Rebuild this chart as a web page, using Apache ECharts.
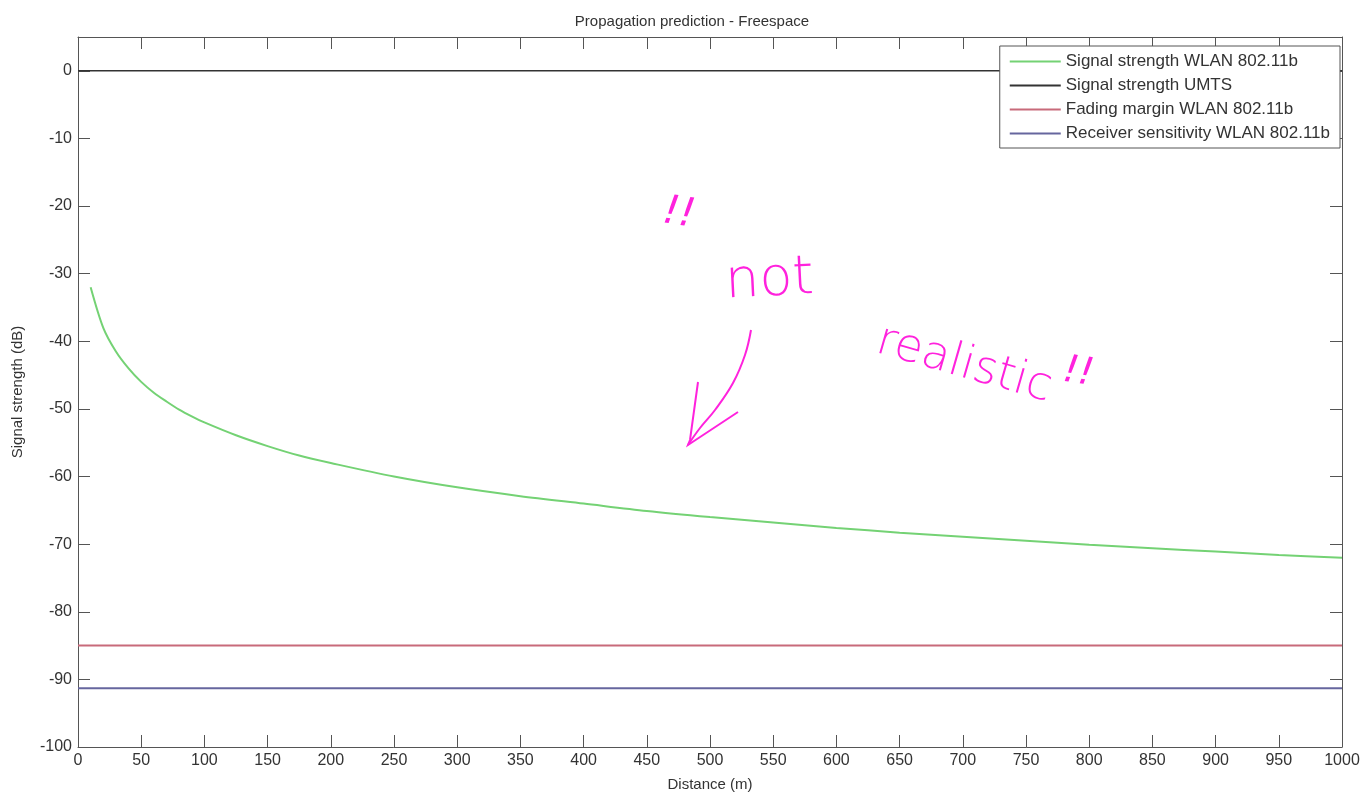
<!DOCTYPE html>
<html>
<head>
<meta charset="utf-8">
<script src="https://cdn.jsdelivr.net/npm/echarts@6/dist/echarts.min.js"></script>
<style>
html,body{margin:0;padding:0;background:#fff;}
#main{width:1364px;height:797px;}
</style>
</head>
<body>
<div id="main"></div>
<script>
// ---- data ----
const titleText = 'Propagation prediction - Freespace';
const seriesNames = ['Signal strength WLAN 802.11b', 'Signal strength UMTS', 'Fading margin WLAN 802.11b', 'Receiver sensitivity WLAN 802.11b'];
const distance = [10, 20, 30, 40, 50, 60, 70, 80, 90, 100, 125, 150, 175, 200, 250, 300, 350, 400, 450, 500, 550, 600, 650, 700, 750, 800, 850, 900, 950, 1000];
const wlanSignal = [-32, -38, -41.5, -44, -46, -47.6, -48.9, -50.1, -51.1, -52, -53.9, -55.5, -56.9, -58, -60, -61.6, -62.9, -64, -65.1, -66, -66.8, -67.6, -68.3, -68.9, -69.5, -70.1, -70.6, -71.1, -71.6, -72];
const lineRange = [0, 1000];
const umtsSignal = 0;
const fadingMargin = -85;
const rxSensitivity = -91.3;
const xTickStep = 50;
const yTickStep = 10;

const colors = ['#74d274', '#333333', '#c86a7a', '#66669e'];
const font = '"Liberation Sans", Arial, sans-serif';

const flat = v => lineRange.map(x => [x, v]);

const chart = echarts.init(document.getElementById('main'), null, {renderer: 'canvas'});

const axisLineStyle = {color: '#555', width: 1};
const baseX = {
  type: 'value', min: 0, max: 1000, interval: xTickStep,
  axisLine: {show: true, onZero: false, lineStyle: axisLineStyle},
  axisTick: {show: true, inside: true, length: 12, lineStyle: axisLineStyle},
  splitLine: {show: false}
};
const baseY = {
  type: 'value', min: -100, max: 5, interval: yTickStep,
  axisLine: {show: true, onZero: false, lineStyle: axisLineStyle},
  axisTick: {show: true, inside: true, length: 12, lineStyle: axisLineStyle},
  splitLine: {show: false}
};

const magenta = '#ff22dd';
const handFont = '"DejaVu Sans", sans-serif';

chart.setOption({
  animation: false,
  backgroundColor: '#ffffff',
  title: {
    text: titleText, left: 687, top: 9, textAlign: 'center',
    textStyle: {fontFamily: font, fontSize: 15, fontWeight: 'normal', color: '#333'}
  },
  grid: {left: 78, top: 37, right: 22, bottom: 48, containLabel: false},
  legend: {
    orient: 'vertical', right: 24, top: 46,
    data: seriesNames,
    icon: 'rect', itemWidth: 51, itemHeight: 2, itemGap: 7,
    borderColor: '#555', borderWidth: 1, backgroundColor: '#fff',
    padding: [7, 10, 6, 10],
    textStyle: {fontFamily: font, fontSize: 17, color: '#333', padding: [0, 0, 0, 0]}
  },
  xAxis: [
    Object.assign({}, baseX, {
      position: 'bottom',
      name: 'Distance (m)', nameLocation: 'middle', nameGap: 30,
      nameTextStyle: {fontFamily: font, fontSize: 15, color: '#333'},
      axisLabel: {margin: 6, fontFamily: font, fontSize: 16, color: '#333', formatter: v => String(v)}
    }),
    Object.assign({}, baseX, {position: 'top', axisLabel: {show: false}})
  ],
  yAxis: [
    Object.assign({}, baseY, {
      position: 'left',
      name: 'Signal strength (dB)', nameLocation: 'middle', nameGap: 53,
      nameTextStyle: {fontFamily: font, fontSize: 15, color: '#333'},
      axisLabel: {margin: 6, fontFamily: font, fontSize: 16, color: '#333', showMaxLabel: false, formatter: v => String(v)}
    }),
    Object.assign({}, baseY, {position: 'right', axisLabel: {show: false}})
  ],
  series: [
    {name: seriesNames[0], type: 'line', data: distance.map((d, i) => [d, wlanSignal[i]]),
     smooth: 0.3, symbol: 'none', lineStyle: {color: colors[0], width: 2}, itemStyle: {color: colors[0]}},
    {name: seriesNames[1], type: 'line', data: flat(umtsSignal), symbol: 'none',
     lineStyle: {color: colors[1], width: 1.5}, itemStyle: {color: colors[1]}},
    {name: seriesNames[2], type: 'line', data: flat(fadingMargin), symbol: 'none',
     lineStyle: {color: colors[2], width: 2}, itemStyle: {color: colors[2]}},
    {name: seriesNames[3], type: 'line', data: flat(rxSensitivity), symbol: 'none',
     lineStyle: {color: colors[3], width: 2}, itemStyle: {color: colors[3]}}
  ],
  graphic: [
    {type: 'text', left: 660, top: 192, rotation: -0.15,
     style: {text: '!!', fill: magenta, font: 'italic 200 40px ' + handFont}},
    {type: 'text', left: 724, top: 252, rotation: 0.05,
     style: {text: 'not', fill: magenta, font: '200 54px ' + handFont}},
    {type: 'text', x: 884, y: 318, rotation: -0.28,
     style: {text: 'realistic', fill: magenta, font: '200 46px ' + handFont}},
    {type: 'text', x: 1066, y: 352, rotation: -0.15,
     style: {text: '!!', fill: magenta, font: 'italic 200 38px ' + handFont}},
    {type: 'polyline', shape: {points: [[751, 330], [745, 355], [733, 383], [715, 410], [700, 428], [688, 445]], smooth: 0.4},
     style: {stroke: magenta, lineWidth: 2, fill: null}},
    {type: 'polyline', shape: {points: [[698, 382], [690, 440], [688, 445], [738, 412]]},
     style: {stroke: magenta, lineWidth: 2, fill: null}}
  ]
});
</script>
</body>
</html>
